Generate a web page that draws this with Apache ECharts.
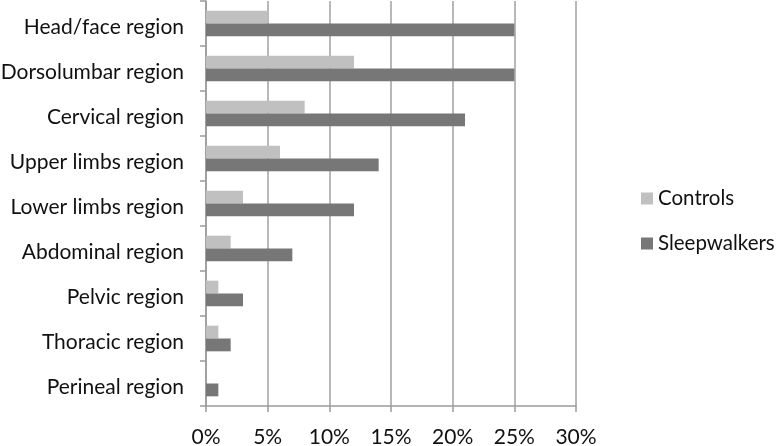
<!DOCTYPE html>
<html>
<head>
<meta charset="utf-8">
<script src="https://cdn.jsdelivr.net/npm/echarts@6/dist/echarts.min.js"></script>
<style>html,body{margin:0;padding:0;background:#fff}#c{width:776px;height:446px}</style>
</head>
<body>
<div id="c"></div>
<script>
const categories = ["Head/face region","Dorsolumbar region","Cervical region","Upper limbs region","Lower limbs region","Abdominal region","Pelvic region","Thoracic region","Perineal region"];
const controls = [5, 12, 8, 6, 3, 2, 1, 1, 0];
const sleepwalkers = [25, 25, 21, 14, 12, 7, 3, 2, 1];
const xTicks = [0, 5, 10, 15, 20, 25, 30];

const FONT = 'Lato';
const FS = 21;
const chart = echarts.init(document.getElementById('c'), null, {renderer: 'canvas'});
chart.setOption({
  animation: false,
  textStyle: {fontFamily: FONT},
  grid: {left: 206, right: 200, top: 1, bottom: 40, containLabel: false, outerBoundsMode: 'none'},
  legend: {
    orient: 'vertical', left: 636, top: 183,
    itemWidth: 12, itemHeight: 12, itemGap: 24,
    icon: 'rect',
    textStyle: {fontFamily: FONT, fontSize: 20.5, color: '#111'},
    data: ['Controls', 'Sleepwalkers']
  },
  xAxis: {
    type: 'value', min: xTicks[0], max: xTicks[xTicks.length-1], interval: 5,
    axisLine: {show: true, lineStyle: {color: '#9a9a9a', width: 1.5}},
    axisTick: {show: true, length: 6, lineStyle: {color: '#9a9a9a', width: 1.5}},
    splitLine: {show: true, lineStyle: {color: '#a0a0a0', width: 1.5}},
    axisLabel: {formatter: v => v + '%', fontSize: FS, color: '#111', margin: 21, fontFamily: FONT}
  },
  yAxis: {
    type: 'category', data: categories, inverse: true,
    axisLine: {show: true, lineStyle: {color: '#9a9a9a', width: 1.5}},
    axisTick: {show: true, length: 6, lineStyle: {color: '#9a9a9a', width: 1.5}},
    axisLabel: {fontSize: FS, color: '#111', margin: 22, fontFamily: FONT, verticalAlign: 'top', lineHeight: 8}
  },
  series: [
    {name: 'Controls', type: 'bar', data: controls, itemStyle: {color: '#c0c0c0'}, barGap: '0%', barCategoryGap: '43%'},
    {name: 'Sleepwalkers', type: 'bar', data: sleepwalkers, itemStyle: {color: '#777777'}, barGap: '0%', barCategoryGap: '43%'}
  ]
});
</script>
</body>
</html>
